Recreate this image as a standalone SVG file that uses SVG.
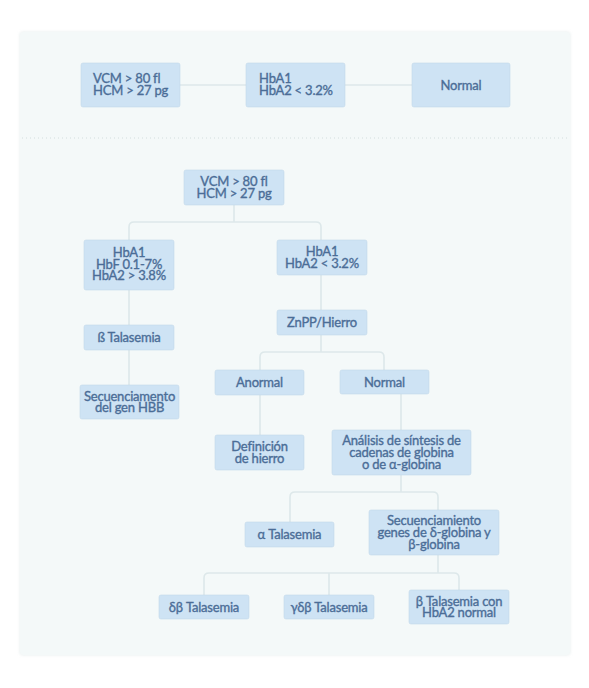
<svg xmlns="http://www.w3.org/2000/svg" width="589" height="688" viewBox="0 0 589 688">
<defs>
<filter id="sh" x="-5%" y="-5%" width="110%" height="110%"><feDropShadow dx="0" dy="0" stdDeviation="1.5" flood-color="#c9d6d6" flood-opacity="0.5"/></filter>
</defs>
<style>
.box{fill:#cee3f4;stroke:#c2d8ea;stroke-width:0.6}
.t{font-family:Lato,"Liberation Sans",sans-serif;font-size:13px;letter-spacing:-0.2px;fill:#4b6d97;stroke:#4b6d97;stroke-width:0.35px;font-weight:400}
.c{text-anchor:middle}
.ln{fill:none;stroke:#dde8ea;stroke-width:1.6}
</style>
<rect width="589" height="688" fill="#ffffff"/>
<rect x="20" y="32" width="550" height="623" rx="3" fill="#f4f9f9" filter="url(#sh)"/>
<line x1="22" y1="138" x2="568" y2="138" stroke="#d3dede" stroke-width="1" stroke-dasharray="1,3"/>
<g id="connectors">
<path class="ln" d="M180,85 H246 M345,85 H412"/>
<path class="ln" d="M234,205 V222 M129,240 V227 Q129,222 134,222 H316 Q321,222 321,227 V240"/>
<path class="ln" d="M129,290 V325 M129,350 V385"/>
<path class="ln" d="M321,275 V310 M321,335 V352 M260,370 V357 Q260,352 265,352 H379 Q384,352 384,357 V370"/>
<path class="ln" d="M260,395 V435 M401,394 V430"/>
<path class="ln" d="M401,475 V492 M290,522 V497 Q290,492 295,492 H433 Q438,492 438,497 V510"/>
<path class="ln" d="M438,555 V573 M204,595 V578 Q204,573 209,573 H454 Q459,573 459,578 V590 M329,573 V595"/>
</g>
<g id="top-vcm"><rect class="box" x="81" y="63" width="99" height="44" rx="2"/><text class="t" x="93" y="83">VCM &gt; 80 fl</text><text class="t" x="93" y="95">HCM &gt; 27 pg</text></g>
<g id="top-hba"><rect class="box" x="246" y="63" width="99" height="44" rx="2"/><text class="t" x="259" y="83">HbA1</text><text class="t" x="259" y="95">HbA2 &lt; 3.2%</text></g>
<g id="top-normal"><rect class="box" x="412" y="63" width="98" height="44" rx="2"/><text class="t c" x="461" y="89.5">Normal</text></g>
<g id="root"><rect class="box" x="184" y="170" width="100" height="35" rx="2"/><text class="t c" x="234" y="186">VCM &gt; 80 fl</text><text class="t c" x="234" y="197.6">HCM &gt; 27 pg</text></g>
<g id="hbf"><rect class="box" x="84" y="240" width="90" height="50" rx="2"/><text class="t c" x="129" y="257">HbA1</text><text class="t c" x="129" y="268.6">HbF 0.1-7%</text><text class="t c" x="129" y="280.2">HbA2 &gt; 3.8%</text></g>
<g id="hba2low"><rect class="box" x="277" y="240" width="90" height="35" rx="2"/><text class="t c" x="322" y="256">HbA1</text><text class="t c" x="322" y="267.6">HbA2 &lt; 3.2%</text></g>
<g id="btal"><rect class="box" x="84" y="325" width="90" height="25" rx="2"/><text class="t c" x="129" y="342">ß Talasemia</text></g>
<g id="seqhbb"><rect class="box" x="80" y="385" width="99" height="34" rx="2"/><text class="t c" x="129.5" y="400.5">Secuenciamento</text><text class="t c" x="129.5" y="412.1">del gen HBB</text></g>
<g id="znpp"><rect class="box" x="277" y="310" width="90" height="25" rx="2"/><text class="t c" x="322" y="327">ZnPP/Hierro</text></g>
<g id="anormal"><rect class="box" x="215" y="370" width="89" height="25" rx="2"/><text class="t c" x="259.5" y="387">Anormal</text></g>
<g id="normal"><rect class="box" x="340" y="370" width="89" height="24" rx="2"/><text class="t c" x="384.5" y="386.5">Normal</text></g>
<g id="definicion"><rect class="box" x="215" y="435" width="89" height="35" rx="2"/><text class="t c" x="259.5" y="451">Definición</text><text class="t c" x="259.5" y="462.6">de hierro</text></g>
<g id="analisis"><rect class="box" x="332" y="430" width="139" height="45" rx="2"/><text class="t c" x="401.5" y="445.3">Análisis de síntesis de</text><text class="t c" x="401.5" y="456.9">cadenas de globina</text><text class="t c" x="401.5" y="468.5">o de α-globina</text></g>
<g id="alfa"><rect class="box" x="245" y="522" width="89" height="25" rx="2"/><text class="t c" x="289.5" y="539">α Talasemia</text></g>
<g id="seqgenes"><rect class="box" x="369" y="510" width="130" height="45" rx="2"/><text class="t c" x="434" y="525.3">Secuenciamiento</text><text class="t c" x="434" y="536.9">genes de δ-globina y</text><text class="t c" x="434" y="548.5">β-globina</text></g>
<g id="db"><rect class="box" x="159" y="595" width="90" height="24" rx="2"/><text class="t c" x="204" y="611.5">δβ Talasemia</text></g>
<g id="gdb"><rect class="box" x="284" y="595" width="90" height="24" rx="2"/><text class="t c" x="329" y="611.5">γδβ Talasemia</text></g>
<g id="bnormal"><rect class="box" x="409" y="590" width="100" height="34" rx="2"/><text class="t c" x="459" y="605.5">β Talasemia con</text><text class="t c" x="459" y="617.1">HbA2 normal</text></g>
</svg>
